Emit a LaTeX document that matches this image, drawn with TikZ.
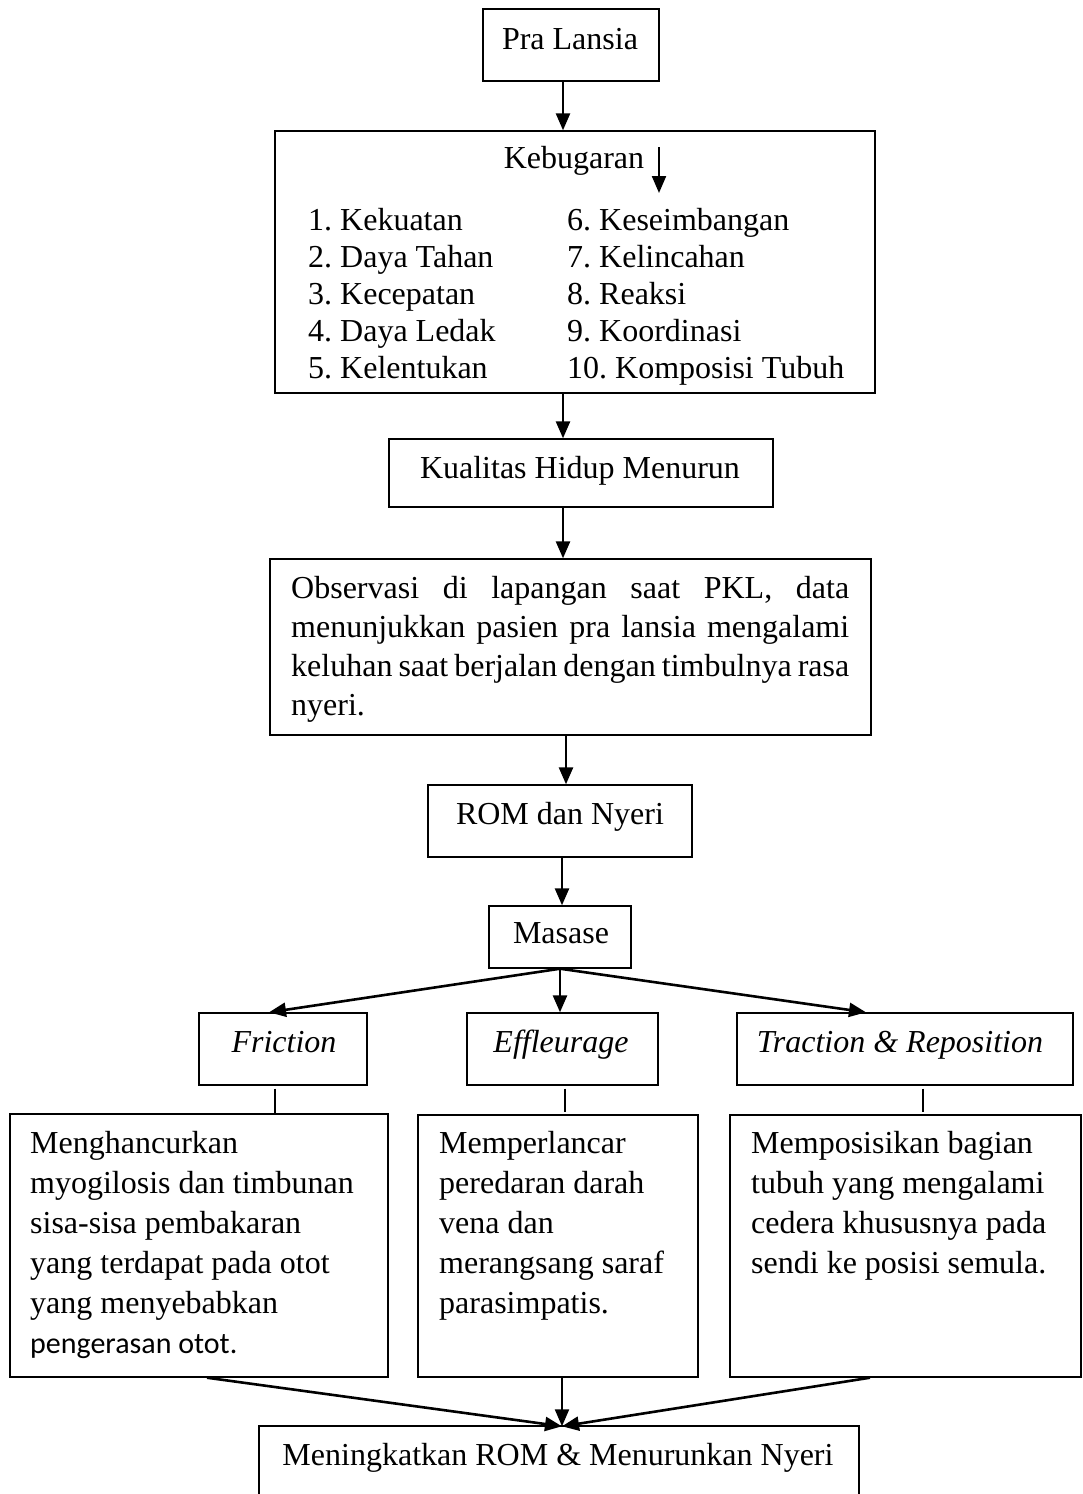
\documentclass[tikz,border=0pt]{standalone}
\usepackage{fontspec}
\setmainfont{Liberation Serif}
\newfontfamily\calibfont{Carlito}
\usetikzlibrary{arrows.meta,calc}
\frenchspacing
\begin{document}
\begin{tikzpicture}[x=1pt,y=-1pt,
  box/.style={draw,line width=1.4pt,inner sep=0pt},
  txt/.style={inner sep=0pt,font=\fontsize{32}{39}\selectfont},
  para/.style={txt,anchor=north west,align=flush left},
  arr/.style={line width=2.6pt,-{Triangle[width=14pt,length=17pt]}},
  thinline/.style={line width=1.1pt}]
\useasboundingbox (0,0) rectangle (1082,1494);
\clip (0,0) rectangle (1082,1494);
\fill[white] (0,0) rectangle (1082,1494);

% boxes
\node[box,minimum width=176pt,minimum height=72pt] (pra) at (571,45) {};
\node[box,minimum width=600pt,minimum height=262pt] (keb) at (575,262) {};
\node[box,minimum width=384pt,minimum height=68pt] (kual) at (581,473) {};
\node[box,minimum width=601pt,minimum height=176pt] (obs) at (570.5,647) {};
\node[box,minimum width=264pt,minimum height=72pt] (rom) at (560,821) {};
\node[box,minimum width=142pt,minimum height=62pt] (mas) at (560,937) {};
\node[box,minimum width=168pt,minimum height=72pt] (fric) at (283,1049) {};
\node[box,minimum width=191pt,minimum height=72pt] (eff) at (562.5,1049) {};
\node[box,minimum width=336pt,minimum height=72pt] (trac) at (905,1049) {};
\node[box,minimum width=378pt,minimum height=263pt] (left) at (199,1245.5) {};
\node[box,minimum width=280pt,minimum height=262pt] (mid) at (558,1246) {};
\node[box,minimum width=351pt,minimum height=262pt] (right) at (905.5,1246) {};
\node[box,minimum width=600pt,minimum height=88pt] (bot) at (559,1470) {};

% texts
\node[txt,anchor=base] (tpra) at (570,49) {Pra Lansia};
\node[txt,anchor=base] (tkeb) at (574,168) {Kebugaran};
\node[para,text width=250pt,font=\fontsize{32}{37}\selectfont] (lista) at (308,208.1)
  {1. Kekuatan\\2. Daya Tahan\\3. Kecepatan\\4. Daya Ledak\\5. Kelentukan};
\node[para,text width=300pt,font=\fontsize{32}{37}\selectfont] (listb) at (567,208.1)
  {6. Keseimbangan\\7. Kelincahan\\8. Reaksi\\9. Koordinasi\\10. Komposisi Tubuh};
\node[txt,anchor=base] (tkual) at (580,478) {Kualitas Hidup Menurun};
\node[para,text width=570pt] (tobs) at (291,576.1)
  {\makebox[558pt][s]{Observasi di lapangan saat PKL, data}\\
   \makebox[558pt][s]{menunjukkan pasien pra lansia mengalami}\\
   \makebox[558pt][s]{keluhan saat berjalan dengan timbulnya rasa}\\
   nyeri.};
\node[txt,anchor=base] (trom) at (560,824) {ROM dan Nyeri};
\node[txt,anchor=base] (tmas) at (561,943) {Masase};
\node[txt,anchor=base] (tfric) at (284,1052) {\itshape Friction};
\node[txt,anchor=base] (teff) at (561,1052) {\itshape Effleurage};
\node[txt,anchor=base] (ttrac) at (900,1052) {\itshape Traction \& Reposition};
\node[para,text width=360pt,font=\fontsize{32}{40}\selectfont] (tleft) at (30,1131.1)
  {Menghancurkan\\myogilosis dan timbunan\\sisa-sisa pembakaran\\yang terdapat pada otot\\yang menyebabkan\\{\calibfont\fontsize{30}{38}\selectfont pengerasan otot.}};
\node[para,text width=255pt,font=\fontsize{32}{40}\selectfont] (tmid) at (439,1131.1)
  {Memperlancar\\peredaran darah\\vena dan\\merangsang saraf\\parasimpatis.};
\node[para,text width=325pt,font=\fontsize{32}{40}\selectfont] (tright) at (751,1131.1)
  {Memposisikan bagian\\tubuh yang mengalami\\cedera khususnya pada\\sendi ke posisi semula.};
\node[txt,anchor=base] (tbot) at (558,1465) {Meningkatkan ROM \& Menurunkan Nyeri};

% connectors
\draw[arr] ([xshift=-8pt]pra.south) -- ([xshift=-8pt]pra.south |- keb.north);
\coordinate (kebA) at (659,147);
\coordinate (kebB) at (659,193);
\draw[arr,line width=2.2pt] (kebA) -- (kebB);
\draw[arr] ([xshift=-12pt]keb.south) -- ([xshift=-12pt]keb.south |- kual.north);
\draw[arr] ([xshift=-18pt]kual.south) -- ([xshift=-18pt]kual.south |- obs.north);
\draw[arr] ([xshift=-4.5pt]obs.south) -- ([xshift=-4.5pt]obs.south |- rom.north);
\draw[arr] ([xshift=2pt]rom.south) -- ([xshift=2pt]rom.south |- mas.north);
\draw[arr] (mas.south) -- ([xshift=-14pt]fric.north);
\draw[arr] (mas.south) -- (mas.south |- eff.north);
\draw[arr] (mas.south) -- ([xshift=-39pt]trac.north);
\draw[thinline] ([xshift=-8pt,yshift=-3pt]fric.south) -- ([xshift=-8pt]fric.south |- left.north);
\draw[thinline] ([xshift=2.5pt,yshift=-3pt]eff.south) -- ([xshift=2.5pt,yshift=2pt]eff.south |- mid.north);
\draw[thinline] ([xshift=18pt,yshift=-3pt]trac.south) -- ([xshift=18pt,yshift=2pt]trac.south |- right.north);
\coordinate (botTip) at ([xshift=3pt,yshift=-1pt]bot.north);
\draw[arr] ([xshift=8pt]left.south) -- (botTip);
\draw[arr,line width=2.2pt] ([xshift=4pt]mid.south) -- (botTip);
\draw[arr] ([xshift=-35.5pt]right.south) -- (botTip);
\end{tikzpicture}
\end{document}
